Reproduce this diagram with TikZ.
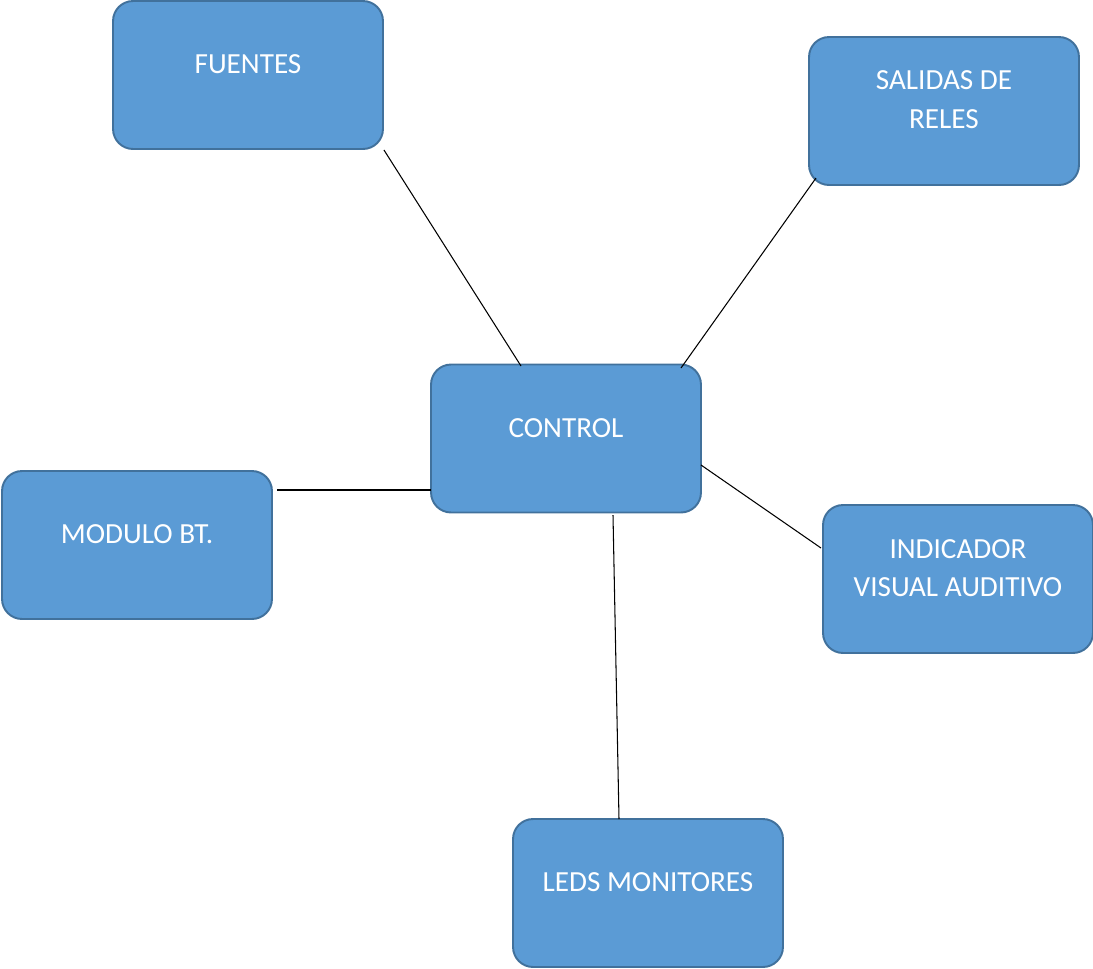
\documentclass[tikz,border=0pt]{standalone}
\usepackage{fontspec}
\setmainfont{Carlito}
\usetikzlibrary{calc}
\definecolor{boxfill}{HTML}{5B9BD5}
\definecolor{boxline}{HTML}{41719C}
\tikzset{
  bloque/.style={draw=boxline,fill=boxfill,line width=1.1pt,rounded corners=0.4cm,
    minimum width=5.4cm,minimum height=2.96cm},
  texto/.style={text=white,align=center,font=\fontsize{16.6}{22}\selectfont},
  enlace/.style={draw=black,line width=0.6pt}
}

\begin{document}
\begin{tikzpicture}[x=0.02cm,y=-0.02cm]
    \useasboundingbox (0,0) rectangle (1093,968);

    \node [bloque] (fuentes) at (248,75) {};
    \node [bloque] (salidas) at (944,111) {};
    \node [bloque] (control) at (566,438.5) {};
    \node [bloque] (modulo) at (137,545) {};
    \node [bloque] (indicador) at (958,579) {};
    \node [bloque] (leds) at (648,893) {};

    \node [texto] (tfuentes) at (248,64) {FUENTES};
    \node [texto] (tsalidas) at (944,99.5) {SALIDAS DE\\RELES};
    \node [texto] (tcontrol) at (566,428) {CONTROL};
    \node [texto] (tmodulo) at (137,534) {MODULO BT.};
    \node [texto] (tindicador) at (958,568) {INDICADOR\\VISUAL AUDITIVO};
    \node [texto] (tleds) at (648,882) {LEDS MONITORES};

    \coordinate (C1) at (521,366);
    \coordinate (C2) at (681,368);
    \coordinate (C3) at (431,490);
    \coordinate (C4) at (701,465);
    \coordinate (C5) at (613,515);

    \coordinate (S1) at (816,178);
    \coordinate (M1) at (277,490);
    \coordinate (I1) at (821,548);
    \coordinate (L1) at (619,819);

    \draw [enlace] (fuentes.south east) -- (C1);
    \draw [enlace] (S1) -- (C2);
    \draw [enlace] (M1) -- (C3);
    \draw [enlace] (C4) -- (I1);
    \draw [enlace] (C5) -- (L1);
\end{tikzpicture}
\end{document}
